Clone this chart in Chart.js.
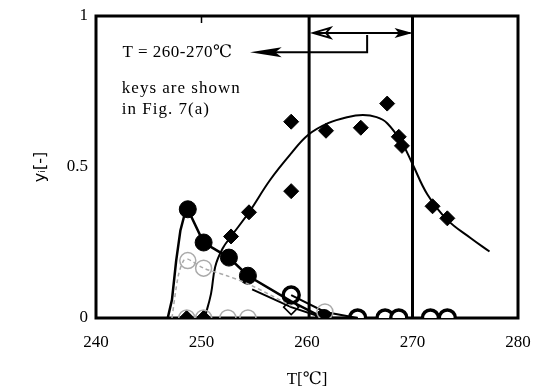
<!DOCTYPE html>
<html><head><meta charset="utf-8">
<script src="https://cdn.jsdelivr.net/npm/chart.js@4/dist/chart.umd.min.js"></script>
<style>html,body{margin:0;padding:0;background:#fff}#c{display:block}</style>
</head><body>
<canvas id="c" width="541" height="391"></canvas>
<script>
// ---- data ----
const xTicks = [240, 250, 260, 270, 280];
const yTicks = [0, 0.5, 1];
// filled diamonds (measured)
const diamT = [248.6, 250.2, 252.8, 254.5, 258.5, 258.5, 261.8, 265.1, 267.6, 268.7, 269.0, 271.9, 273.3];
const diamY = [0, 0, 0.27, 0.35, 0.65, 0.42, 0.62, 0.63, 0.71, 0.60, 0.57, 0.37, 0.33];
// fitted curve through filled diamonds
const fitT = [250.3, 250.9, 251.3, 252.0, 252.8, 254.5, 256.5, 258.5, 260.1, 262.0, 263.8, 265.3, 266.6, 267.6, 269.0, 270.0, 271.4, 273.3, 275.5, 277.3];
const fitY = [0, 0.08, 0.17, 0.23, 0.27, 0.35, 0.457, 0.545, 0.606, 0.645, 0.665, 0.672, 0.665, 0.645, 0.58, 0.51, 0.41, 0.325, 0.265, 0.22];
// filled circles
const circT = [248.7, 250.2, 252.6, 254.4, 261.6];
const circY = [0.36, 0.25, 0.20, 0.14, 0];
const circLineT = [246.8, 247.2, 247.6, 248.0, 248.45, 248.7, 250.2, 252.6, 254.4, 258.5, 261.6, 264.8];
const circLineY = [0, 0.06, 0.19, 0.29, 0.35, 0.36, 0.25, 0.20, 0.14, 0.055, 0, 0];
// open circles
const openCT = [258.5, 264.8, 267.4, 268.7, 271.7, 273.3];
const openCY = [0.076, 0, 0, 0, 0, 0];
const openCLineT = [258.5, 261.7, 264.8];
const openCLineY = [0.076, 0.02, 0];
// open diamonds
const openDT = [258.5, 264.8, 267.4, 268.7, 271.7, 273.3];
const openDY = [0.036, 0, 0, 0, 0, 0];
const openDLineT = [254.8, 258.5, 261.6];
const openDLineY = [0.095, 0.036, 0];
// faint grey series
const greyT = [248.7, 250.2, 248.6, 250.2, 252.5, 254.4, 261.7];
const greyY = [0.19, 0.165, 0, 0, 0, 0, 0.02];
const greyLineT = [247.2, 247.8, 248.3, 248.7, 250.2, 252.4, 254.6, 258.5];
const greyLineY = [0, 0.14, 0.19, 0.195, 0.165, 0.14, 0.11, 0.04];
// range lines
const rangeT = [260.2, 270.0];

const pts = (xs, ys) => xs.map((x, i) => ({x, y: ys[i]}));
const SERIF = "'Liberation Serif', 'DejaVu Serif', serif";

const deco = {
  id: 'deco',
  beforeDatasetsDraw(chart) {
    const {ctx, chartArea: a, scales: {x}} = chart;
    ctx.save();
    ctx.strokeStyle = '#000';
    ctx.lineWidth = 3;
    ctx.strokeRect(a.left, a.top, a.right - a.left, a.bottom - a.top);
    rangeT.forEach(t => {
      const px = x.getPixelForValue(t);
      ctx.beginPath(); ctx.moveTo(px, a.top); ctx.lineTo(px, a.bottom); ctx.stroke();
    });
    ctx.restore();
  },
  afterDatasetsDraw(chart) {
    const {ctx, scales: {x, y}} = chart;
    const X = v => x.getPixelForValue(v), Y = v => y.getPixelForValue(v);
    ctx.save();
    ctx.fillStyle = '#000'; ctx.strokeStyle = '#000';
    ctx.font = '17px ' + SERIF;
    ctx.textBaseline = 'middle'; ctx.textAlign = 'left';
    ctx.letterSpacing = '0.5px';
    ctx.fillText('T = 260-270℃', X(242.5), Y(0.88));
    ctx.letterSpacing = '1px';
    ctx.fillText('keys are shown', X(242.45), Y(0.76));
    ctx.fillText('in Fig. 7(a)', X(242.45), Y(0.69));
    ctx.letterSpacing = '0px';
    // bracket arrow to text
    ctx.lineWidth = 2;
    ctx.beginPath();
    ctx.moveTo(X(265.7), Y(0.937)); ctx.lineTo(X(265.7), Y(0.88)); ctx.lineTo(X(256.3), Y(0.88));
    ctx.stroke();
    ctx.beginPath();
    ctx.moveTo(X(254.6), Y(0.88)); ctx.lineTo(X(257.6), Y(0.88) - 5); ctx.lineTo(X(257.0), Y(0.88)); ctx.lineTo(X(257.6), Y(0.88) + 5); ctx.closePath(); ctx.fill();
    // double arrow
    const yy = Y(0.944);
    ctx.beginPath(); ctx.moveTo(X(260.6), yy); ctx.lineTo(X(269.8), yy); ctx.stroke();
    ctx.beginPath();
    ctx.moveTo(X(260.6), yy); ctx.lineTo(X(262.2), yy - 5); ctx.lineTo(X(261.8), yy); ctx.lineTo(X(262.2), yy + 5); ctx.closePath(); ctx.stroke();
    ctx.beginPath();
    ctx.moveTo(X(270.0), yy); ctx.lineTo(X(268.3), yy - 5); ctx.lineTo(X(268.7), yy); ctx.lineTo(X(268.3), yy + 5); ctx.closePath(); ctx.fill();
    // small top tick
    ctx.lineWidth = 1.5;
    ctx.beginPath(); ctx.moveTo(X(250), Y(1)); ctx.lineTo(X(250), Y(1) + 7); ctx.stroke();
    ctx.restore();
  }
};

new Chart(document.getElementById('c'), {
  type: 'scatter',
  data: {
    datasets: [
      {data: pts(greyLineT, greyLineY), showLine: true, borderColor: '#aaa', borderWidth: 1.5, borderDash: [4, 3], pointRadius: 0, tension: 0.3},
      {data: pts(greyT, greyY), pointStyle: 'circle', pointRadius: 8, borderColor: '#aaa', borderWidth: 1.5, backgroundColor: 'rgba(0,0,0,0)'},
      {data: pts(fitT, fitY), showLine: true, borderColor: '#000', borderWidth: 2, pointRadius: 0, tension: 0.4},
      {data: pts(circLineT, circLineY), showLine: true, borderColor: '#000', borderWidth: 2.5, pointRadius: 0, tension: 0},
      {data: pts(openDLineT, openDLineY), showLine: true, borderColor: '#000', borderWidth: 2, pointRadius: 0, tension: 0},
      {data: pts(openCLineT, openCLineY), showLine: true, borderColor: '#000', borderWidth: 2, pointRadius: 0, tension: 0},
      {data: pts(circT, circY), pointStyle: 'circle', pointRadius: 8.5, backgroundColor: '#000', borderColor: '#000', borderWidth: 1},
      {data: pts(openCT, openCY), pointStyle: 'circle', pointRadius: 8, backgroundColor: '#fff', borderColor: '#000', borderWidth: 3.5},
      {data: pts(openDT, openDY), pointStyle: 'rectRot', pointRadius: 7.5, backgroundColor: 'rgba(0,0,0,0)', borderColor: '#000', borderWidth: 1.5},
      {data: pts(diamT, diamY), pointStyle: 'rectRot', pointRadius: 7.5, backgroundColor: '#000', borderColor: '#000', borderWidth: 1}
    ]
  },
  options: {
    responsive: false, animation: false,
    layout: {padding: {top: 16, right: 23, left: 0, bottom: 0}},
    plugins: {legend: {display: false}, tooltip: {enabled: false}},
    scales: {
      x: {
        type: 'linear', min: 240, max: 280,
        afterFit: s => { s.height = 73; s.paddingLeft = 0; s.paddingRight = 0; },
        afterBuildTicks: s => { s.ticks = xTicks.map(v => ({value: v})); },
        grid: {display: false, drawTicks: false}, border: {display: false},
        ticks: {color: '#000', font: {family: SERIF, size: 17}, padding: 14},
        title: {display: true, text: 'T[℃]', color: '#000', font: {family: SERIF, size: 17}, padding: {bottom: 1}}
      },
      y: {
        type: 'linear', min: 0, max: 1,
        afterFit: s => { s.width = 96; s.paddingTop = 0; s.paddingBottom = 0; },
        afterBuildTicks: s => { s.ticks = yTicks.map(v => ({value: v})); },
        grid: {display: false, drawTicks: false}, border: {display: false},
        ticks: {color: '#000', font: {family: SERIF, size: 17}, padding: 8, callback: v => String(v)},
        title: {display: true, text: 'yᵢ[-]', color: '#000', font: {family: "'DejaVu Sans', sans-serif", size: 16}, padding: {top: 31}}
      }
    }
  },
  plugins: [deco]
});
</script>
</body></html>
